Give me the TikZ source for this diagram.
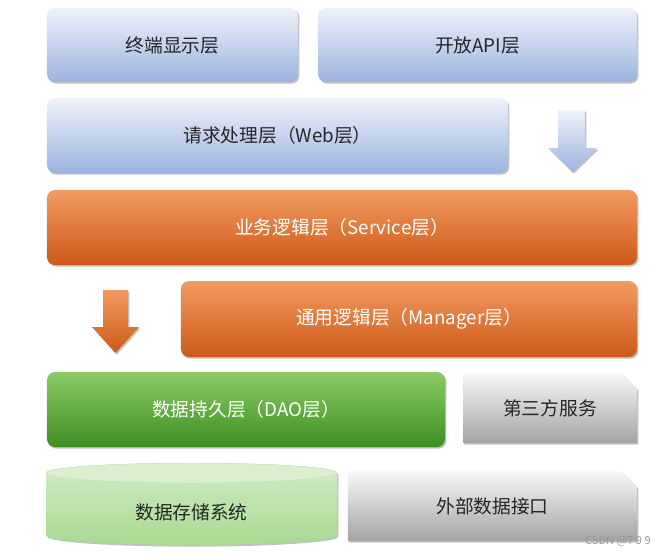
\documentclass[tikz,border=0pt]{standalone}
\usepackage{fontspec}
\usepackage{xcolor}
\usetikzlibrary{shadows,shapes.misc}
\newfontfamily\cjk{Noto Sans CJK SC}
\definecolor{blueTop}{HTML}{EEF2FA}
\definecolor{blueBot}{HTML}{9CB3E0}
\definecolor{orangeTop}{HTML}{F39A62}
\definecolor{orangeBot}{HTML}{CC5A17}
\definecolor{greenTop}{HTML}{8CCB66}
\definecolor{greenBot}{HTML}{3E8E23}
\definecolor{paleTop}{HTML}{D3ECC6}
\definecolor{paleBot}{HTML}{A9D991}
\definecolor{grayTop}{HTML}{F8F8F8}
\definecolor{grayBot}{HTML}{A3A3A3}
\definecolor{inkDark}{HTML}{262626}

\begin{document}
\begin{tikzpicture}[
  x=0.03cm,
  y=-0.03cm,
  every node/.style={font=\cjk\fontsize{16}{19}\selectfont, inner sep=0pt},
  boxshadow/.style={drop shadow={shadow xshift=1.2pt, shadow yshift=-1.4pt,
                    opacity=0.35, fill=black!70}},
  layer/.style={rounded corners=0.24cm, boxshadow},
  bluelayer/.style={layer, top color=blueTop, bottom color=blueBot, text=inkDark},
  orangelayer/.style={layer, top color=orangeTop, bottom color=orangeBot, text=white},
  greenlayer/.style={layer, top color=greenTop, bottom color=greenBot, text=white},
  graylayer/.style={chamfered rectangle, chamfered rectangle corners=north east,
                    chamfered rectangle xsep=0.24cm, chamfered rectangle ysep=0.24cm,
                    boxshadow, top color=grayTop, bottom color=grayBot, text=inkDark},
  downarrow/.style={boxshadow}
]
  \useasboundingbox (0,0) rectangle (666,557);

  % ---- top row -----------------------------------------------------------
  \node[bluelayer, minimum width=7.53cm, minimum height=2.22cm]
    (term) at (172.5,45) {终端显示层};
  \node[bluelayer, minimum width=9.57cm, minimum height=2.22cm]
    (openapi) at (477.5,45) {开放API层};

  % ---- web layer and its arrow -------------------------------------------
  \node[bluelayer, minimum width=13.83cm, minimum height=2.25cm]
    (web) at (277.5,135.5) {请求处理层（Web层）};
  \shade[downarrow, top color=blueTop, bottom color=blueBot]
    (558,110) -- (585,110) -- (585,148) -- (597,148) -- (572.5,172)
    -- (548,148) -- (558,148) -- cycle;

  % ---- service and manager -----------------------------------------------
  \node[orangelayer, minimum width=17.7cm, minimum height=2.25cm]
    (service) at (342,227.5) {业务逻辑层（Service层）};
  \shade[downarrow, top color=orangeTop, bottom color=orangeBot]
    (103,290) -- (128,290) -- (128,327) -- (139,327) -- (115.5,353)
    -- (92,327) -- (103,327) -- cycle;
  \node[orangelayer, minimum width=13.68cm, minimum height=2.28cm]
    (manager) at (409,319) {通用逻辑层（Manager层）};

  % ---- persistence row ---------------------------------------------------
  \node[greenlayer, minimum width=11.94cm, minimum height=2.25cm]
    (dao) at (246,409.5) {数据持久层（DAO层）};
  \node[graylayer, minimum width=5.22cm, minimum height=2.1cm]
    (thirdparty) at (550,408) {第三方服务};

  % ---- storage row -------------------------------------------------------
  % cylinder: body from y=473 to y=535, ellipses with ry=10
  \shade[boxshadow, top color=paleTop, bottom color=paleBot]
    (46,473) -- (46,535) arc[start angle=180, end angle=360,
    x radius=145.5, y radius=-10] -- (337,473)
    arc[start angle=0, end angle=180, x radius=145.5, y radius=-10] -- cycle;
  \fill[paleTop!85!white, draw=paleBot!70!white, line width=0.4pt]
    (191.5,473) ellipse[x radius=145.5, y radius=-10];
  \node[text=inkDark] (storage) at (191.5,512) {数据存储系统};
  \node[graylayer, minimum width=8.67cm, minimum height=2.1cm]
    (external) at (492.5,506) {外部数据接口};

  % ---- watermark ---------------------------------------------------------
  \node[font=\cjk\fontsize{9.5}{11}\selectfont, text=black!40, anchor=east]
    (mark) at (651,541) {CSDN @7 9 9};
\end{tikzpicture}
\end{document}
